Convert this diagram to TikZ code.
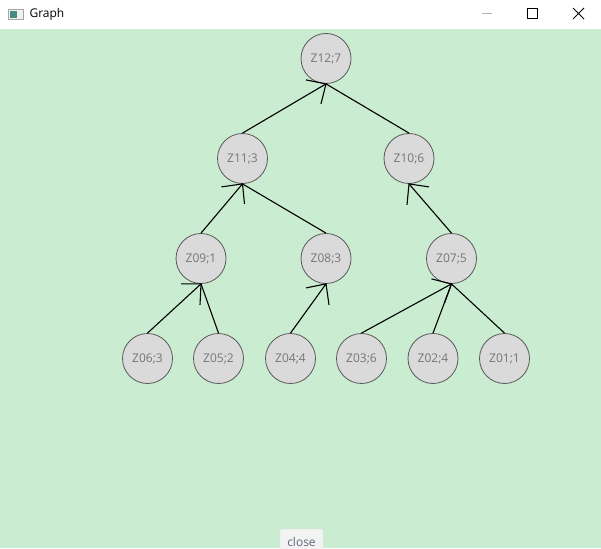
\documentclass[tikz,border=0pt]{standalone}
\usepackage{fontspec}
\setmainfont{Open Sans}
\usepackage{xcolor}
\usetikzlibrary{positioning}
\definecolor{bggreen}{RGB}{202,236,209}
\definecolor{nodegray}{RGB}{218,218,218}
\definecolor{labelgray}{RGB}{118,118,118}
\definecolor{buttongray}{RGB}{243,243,243}
\definecolor{buttontext}{RGB}{96,104,122}
\definecolor{icongreen}{RGB}{70,140,130}

\begin{document}
\begin{tikzpicture}[x=1pt,y=-1pt,
  vertex/.style={circle,draw=black!65,line width=0.8pt,fill=nodegray,minimum size=50pt,inner sep=0pt,
    text=labelgray,font=\fontsize{12}{14}\selectfont},
  edge/.style={draw=black,line width=1.1pt},
  barb/.style={draw=black,line width=1.1pt}]
  \useasboundingbox (0,0) rectangle (601,548);

  \fill[white] (0,0) rectangle (601,29);
  \fill[bggreen] (0,29) rectangle (601,548);

  \draw[black!35,fill=white!90!gray] (8.5,9.5) rectangle (23.5,19.5);
  \fill[icongreen] (10,11) rectangle (17,18);
  \node[anchor=west,font=\fontsize{12}{14}\selectfont] (title) at (26,14) {Graph};
  \draw[black!30,line width=0.8pt] (482,13.5) -- (492,13.5);
  \draw[black,line width=0.9pt] (527.5,8.5) rectangle (537.5,18.5);
  \draw[black,line width=0.9pt] (573,8) -- (584,19) (573,19) -- (584,8);

  \def\top{58.5}
  \def\midrow{158.5}
  \def\low{258.5}
  \def\leaf{358.5}

  \node[vertex] (Z12) at (326,\top) {Z12;7};
  \node[vertex] (Z11) at (242.5,\midrow) {Z11;3};
  \node[vertex] (Z10) at (409,\midrow) {Z10;6};
  \node[vertex] (Z09) at (201,\low) {Z09;1};
  \node[vertex] (Z08) at (326,\low) {Z08;3};
  \node[vertex] (Z07) at (451.5,\low) {Z07;5};
  \node[vertex] (Z06) at (147.5,\leaf) {Z06;3};
  \node[vertex] (Z05) at (218.5,\leaf) {Z05;2};
  \node[vertex] (Z04) at (290.5,\leaf) {Z04;4};
  \node[vertex] (Z03) at (361.5,\leaf) {Z03;6};
  \node[vertex] (Z02) at (433,\leaf) {Z02;4};
  \node[vertex] (Z01) at (504.5,\leaf) {Z01;1};

  \draw[edge] (Z11.north) -- (Z12.south);
  \draw[edge] (Z10.north) -- (Z12.south);
  \draw[edge] (Z09.north) -- (Z11.south);
  \draw[edge] (Z08.north) -- (Z11.south);
  \draw[edge] (Z07.north) -- (Z10.south);
  \draw[edge] (Z06.north) -- (Z09.south);
  \draw[edge] (Z05.north) -- (Z09.south);
  \draw[edge] (Z04.north) -- (Z08.south);
  \draw[edge] (Z03.north) -- (Z07.south);
  \draw[edge] (Z02.north) -- (Z07.south);
  \draw[edge] (Z01.north) -- (Z07.south);

  \draw[barb] (Z12.south) ++(-20,-4) -- (Z12.south) -- ++(-5,20);
  \draw[barb] (Z11.south) ++(-21,3) -- (Z11.south) -- ++(2,20);
  \draw[barb] (Z10.south) ++(20,3) -- (Z10.south) -- ++(-2,21);
  \draw[barb] (Z09.south) ++(-20,0) -- (Z09.south) -- ++(-1,21);
  \draw[barb] (Z08.south) ++(-20,4) -- (Z08.south) -- ++(3,21);
  \draw[barb] (Z07.south) ++(-20,-5) -- (Z07.south) -- ++(-7,19);

  \draw[black!12,fill=buttongray,rounded corners=2pt] (280,529) rectangle (323,556);
  \node[text=buttontext,font=\fontsize{12}{14}\selectfont] (close) at (301.5,541.5) {close};
\end{tikzpicture}
\end{document}
